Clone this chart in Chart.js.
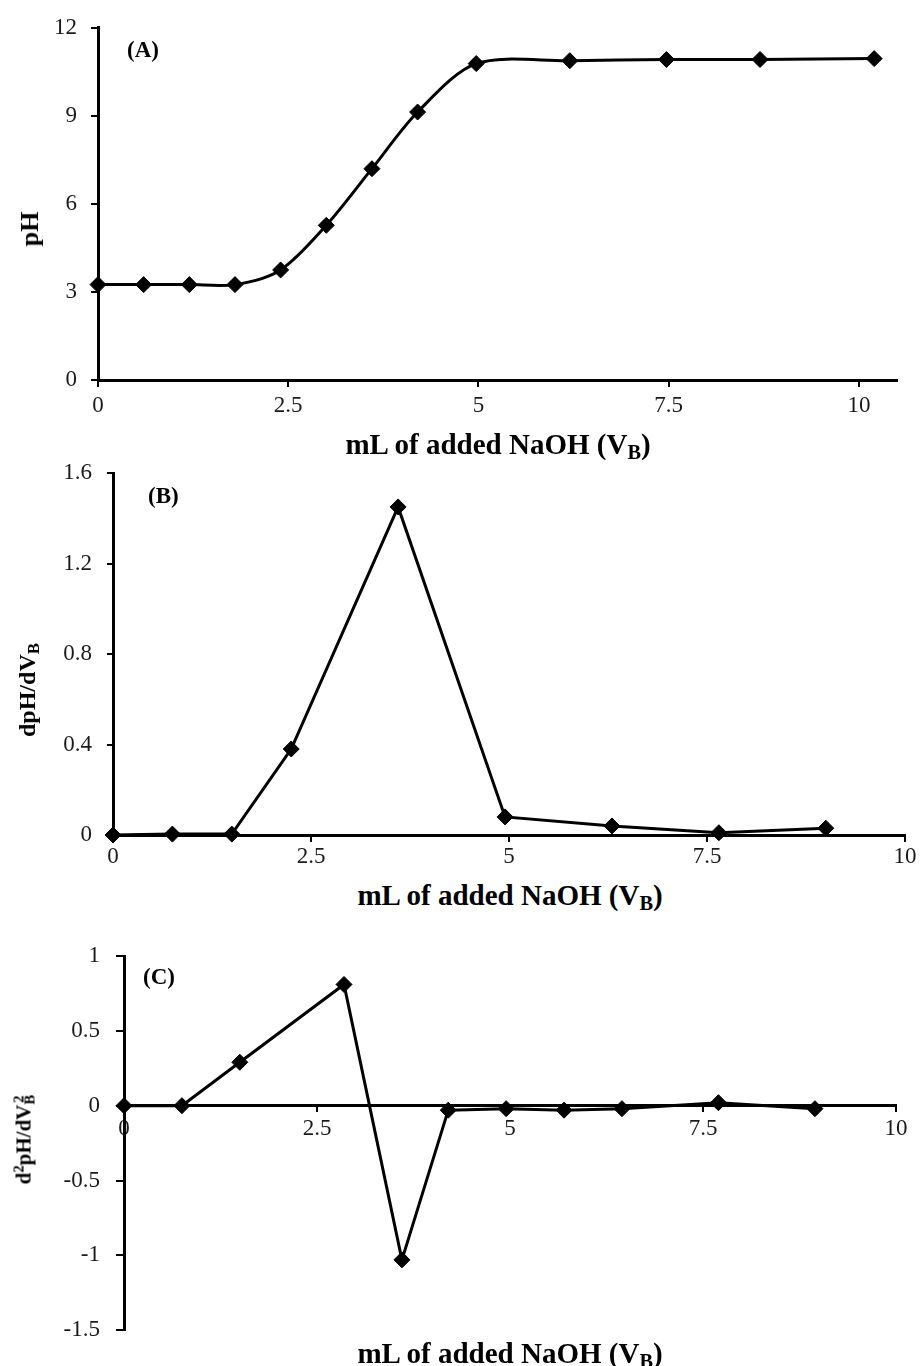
<!DOCTYPE html>
<html><head><meta charset="utf-8">
<script src="https://cdn.jsdelivr.net/npm/chart.js@4"></script>
<style>
html,body{margin:0;padding:0;background:#fff;}
#wrap{position:relative;width:920px;height:1366px;overflow:hidden;background:#fff;}
canvas{position:absolute;left:0;}
.t{position:absolute;font-family:"Liberation Serif","Times New Roman",serif;font-weight:bold;color:#000;white-space:nowrap;line-height:1;}
.t sub{font-size:0.7em;vertical-align:-0.25em;line-height:0;}
.t sup{font-size:0.7em;vertical-align:0.45em;line-height:0;}
.xt{transform:translate(-50%,-50%);}
.yt{transform:translate(-50%,-50%) rotate(-90deg);}
</style></head>
<body><div id="wrap">
<canvas id="cA" width="920" height="430" style="top:0px"></canvas>
<canvas id="cB" width="920" height="430" style="top:440px"></canvas>
<canvas id="cC" width="920" height="440" style="top:920px"></canvas>

<div class="t" style="left:127px;top:38px;font-size:23px">(A)</div>
<div class="t" style="left:148px;top:484px;font-size:23px">(B)</div>
<div class="t" style="left:143px;top:965px;font-size:23px">(C)</div>

<div class="t xt" style="left:498px;top:444px;font-size:29px">mL of added NaOH (V<sub>B</sub>)</div>
<div class="t xt" style="left:510px;top:895px;font-size:29px">mL of added NaOH (V<sub>B</sub>)</div>
<div class="t xt" style="left:510px;top:1353px;font-size:29px">mL of added NaOH (V<sub>B</sub>)</div>

<div class="t yt" style="left:30px;top:229px;font-size:26px">pH</div>
<div class="t yt" style="left:27px;top:690px;font-size:24px">dpH/dV<sub>B</sub></div>
<div class="t yt" style="left:24px;top:1140px;font-size:21px">d<sup>2</sup>pH/dV<sub>B</sub><sup style="margin-left:-0.55em">2</sup></div>
</div>
<script>
// Panel A: titration curve
const xA = [0, 0.6, 1.2, 1.8, 2.4, 3.0, 3.6, 4.2, 4.97, 6.2, 7.47, 8.7, 10.2];
const pH = [3.25, 3.25, 3.25, 3.25, 3.75, 5.27, 7.2, 9.13, 10.78, 10.88, 10.92, 10.92, 10.95];
// Panel B: first derivative
const xB = [0, 0.75, 1.5, 2.25, 3.6, 4.95, 6.3, 7.65, 9.0];
const dpH = [0, 0.004, 0.004, 0.38, 1.45, 0.08, 0.04, 0.01, 0.03];
// Panel C: second derivative
const xC = [0, 0.75, 1.5, 2.85, 3.6, 4.2, 4.95, 5.7, 6.45, 7.7, 8.95];
const d2pH = [0, 0, 0.29, 0.81, -1.03, -0.03, -0.02, -0.03, -0.02, 0.02, -0.02];
// Tick labels
const xTicksA = [0, 2.5, 5, 7.5, 10];
const yTicksA = [0, 3, 6, 9, 12];
const xTicksB = [0, 2.5, 5, 7.5, 10];
const yTicksB = [0, 0.4, 0.8, 1.2, 1.6];
const xTicksC = [0, 2.5, 5, 7.5, 10];
const yTicksC = [-1.5, -1, -0.5, 0, 0.5, 1];

function pts(xs, ys) { return xs.map((x, i) => ({x: x, y: ys[i]})); }
function fmt(v) { return String(Math.round(v * 100) / 100); }
const FONT = {family: '"Liberation Serif", "Times New Roman", serif', size: 23};

function axis(o) {
  return {
    type: 'linear', min: o.min, max: o.max, position: o.position,
    afterBuildTicks: s => { s.ticks = o.ticks.map(v => ({value: v})); },
    afterFit: s => { if (o.width) s.width = o.width; if (o.height) s.height = o.height; },
    grid: {display: true, drawOnChartArea: false, drawTicks: true, tickLength: o.tl, color: '#000', lineWidth: 2},
    border: {display: true, color: '#000', width: 3},
    ticks: {font: FONT, color: '#1a1a1a', padding: o.pad, callback: v => fmt(v), autoSkip: false, maxRotation: 0, minRotation: 0}
  };
}

function ds(xs, ys, tension) {
  return {
    data: pts(xs, ys), borderColor: '#000', backgroundColor: '#000', borderWidth: 3,
    tension: tension, pointStyle: 'rectRot', pointRadius: 8, pointBorderWidth: 1,
    pointBackgroundColor: '#000', pointBorderColor: '#000', clip: false, fill: false
  };
}

function make(id, dataset, xs, ys, padding) {
  return new Chart(document.getElementById(id), {
    type: 'line',
    data: {datasets: [dataset]},
    options: {
      responsive: false, animation: false, devicePixelRatio: 1, events: [],
      layout: {padding: padding},
      plugins: {legend: {display: false}, tooltip: {enabled: false}},
      scales: {x: xs, y: ys}
    }
  });
}

make('cA', ds(xA, pH, 0.3),
  axis({min: 0, max: 10.5, position: 'bottom', ticks: xTicksA, tl: 7, pad: 5, height: 50}),
  axis({min: 0, max: 12, position: 'left', ticks: yTicksA, tl: 7, pad: 14, width: 98}),
  {left: 0, right: 23, top: 25, bottom: 0});

make('cB', ds(xB, dpH, 0),
  axis({min: 0, max: 10, position: 'bottom', ticks: xTicksB, tl: 7, pad: 1, height: 35}),
  axis({min: 0, max: 1.6, position: 'left', ticks: yTicksB, tl: 6, pad: 15, width: 113}),
  {left: 0, right: 15, top: 33, bottom: 0});

make('cC', ds(xC, d2pH, 0),
  axis({min: 0, max: 10, position: {y: 0}, ticks: xTicksC, tl: 5, pad: 4}),
  axis({min: -1.5, max: 1, position: 'left', ticks: yTicksC, tl: 8, pad: 16, width: 124}),
  {left: 0, right: 24, top: 36, bottom: 27});
</script></body></html>
